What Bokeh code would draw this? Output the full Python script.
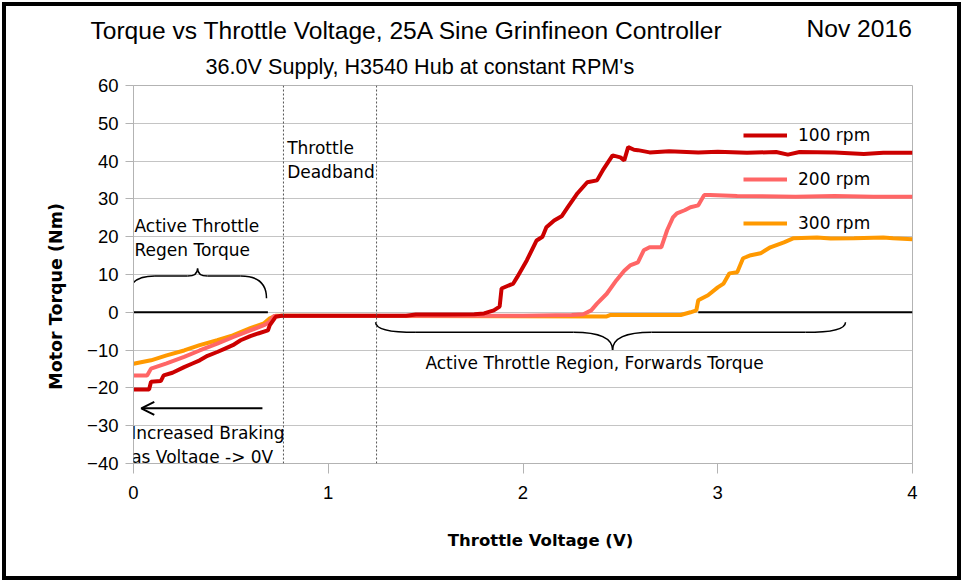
import numpy as np
from bokeh.plotting import figure
from bokeh.models import Range1d, Label, Span, Arrow, OpenHead, Legend, LegendItem
from bokeh.embed import file_html
from bokeh.resources import INLINE

# ---------------- data ----------------
volts_100 = [0.00, 0.08, 0.09, 0.14, 0.155, 0.20, 0.26, 0.30, 0.34, 0.38, 0.43, 0.47, 0.51,
             0.55, 0.60, 0.64, 0.69, 0.70, 0.73, 0.76, 1.00, 1.40, 1.45, 1.60, 1.75, 1.80,
             1.85, 1.88, 1.89, 1.95, 1.97, 2.02, 2.07, 2.10, 2.12, 2.16, 2.20, 2.23, 2.28,
             2.33, 2.38, 2.41, 2.46, 2.50, 2.52, 2.54, 2.57, 2.59, 2.65, 2.75, 2.90, 3.00,
             3.15, 3.30, 3.36, 3.42, 3.60, 3.75, 3.85, 4.00]
torque_100 = [-20.4, -20.4, -18.4, -18.2, -16.7, -16.0, -14.5, -13.6, -12.7, -11.5, -10.5, -9.6, -8.7,
              -7.4, -6.3, -5.6, -4.8, -3.4, -1.2, -0.9, -0.9, -0.9, -0.6, -0.6, -0.5, -0.3,
              0.5, 1.5, 6.3, 7.6, 9.3, 13.8, 19.0, 20.0, 22.5, 24.3, 25.5, 27.8, 31.5,
              34.4, 34.9, 37.6, 41.5, 41.0, 40.2, 43.7, 43.0, 42.9, 42.3, 42.6, 42.3, 42.5,
              42.2, 42.4, 41.7, 42.4, 42.3, 41.9, 42.2, 42.2]

volts_200 = [0.00, 0.07, 0.09, 0.17, 0.26, 0.34, 0.43, 0.51, 0.60, 0.67, 0.70, 0.72, 2.00, 2.25,
             2.31, 2.35, 2.38, 2.43, 2.48, 2.52, 2.55, 2.59, 2.62, 2.65, 2.71, 2.74, 2.77,
             2.79, 2.83, 2.86, 2.90, 2.93, 2.96, 3.10, 3.40, 3.60, 3.80, 4.00]
torque_200 = [-16.7, -16.7, -14.9, -13.5, -11.8, -10.1, -8.3, -6.6, -4.8, -3.4, -2.5, -1.0, -0.9, -0.7,
              -0.5, 0.5, 2.3, 4.9, 8.5, 11.0, 12.4, 13.2, 16.4, 17.2, 17.2, 21.7, 25.1,
              26.2, 27.0, 27.8, 28.3, 31.0, 31.0, 30.8, 30.6, 30.8, 30.6, 30.6]

volts_300 = [0.00, 0.09, 0.17, 0.26, 0.34, 0.43, 0.51, 0.60, 0.67, 0.70, 0.73, 2.43, 2.45, 2.81,
             2.86, 2.89, 2.90, 2.95, 3.00, 3.03, 3.06, 3.10, 3.13, 3.17, 3.22, 3.27, 3.34,
             3.39, 3.51, 3.58, 3.70, 3.85, 3.90, 4.00]
torque_300 = [-13.6, -12.7, -11.4, -10.1, -8.7, -7.4, -6.1, -4.2, -2.9, -1.6, -0.9, -1.1, -0.7, -0.7,
              0.0, 0.5, 3.2, 4.5, 6.6, 7.6, 10.3, 10.6, 14.3, 15.1, 15.6, 17.2, 18.5,
              19.6, 19.8, 19.5, 19.6, 19.8, 19.6, 19.3]

series_labels = ["100 rpm", "200 rpm", "300 rpm"]
x_ticks = [0, 1, 2, 3, 4]
y_ticks = [-40, -30, -20, -10, 0, 10, 20, 30, 40, 50, 60]
deadband_bounds = [0.77, 1.248]

# ---------------- figure ----------------
p = figure(width=963, height=582, output_backend="svg", toolbar_location=None,
           x_range=Range1d(0, 4), y_range=Range1d(-40, 60), title=None,
           min_border_left=133, min_border_right=51, min_border_top=85, min_border_bottom=119)
p.styles = {"position": "absolute", "left": "0px", "top": "0px",
            "outline": "4px solid black", "outline-offset": "-6px"}
p.background_fill_color = "white"
p.border_fill_alpha = 0
p.outline_line_color = "#b3b3b3"

p.xgrid.visible = False
p.ygrid.grid_line_color = "#c4c4c4"
p.ygrid.grid_line_width = 1

p.xaxis.ticker = x_ticks
p.yaxis.ticker = y_ticks
for ax in (p.xaxis, p.yaxis):
    ax.axis_line_color = "#b3b3b3"
    ax.major_tick_line_color = "#b3b3b3"
    ax.minor_tick_line_color = None
    ax.major_tick_in = 0
    ax.major_label_text_font = "Liberation Sans"
    ax.major_label_text_font_size = "18.5px"
    ax.major_label_text_color = "black"
p.yaxis.major_tick_out = 8
p.yaxis.major_label_standoff = 7
p.xaxis.major_tick_out = 10
p.xaxis.major_label_standoff = 12

# zero reference line (visible where curves are not sitting on it)
p.segment(x0=[0.0, 2.9], y0=[0, 0], x1=[0.69, 4.0], y1=[0, 0], line_color="black", line_width=2)

# dotted deadband boundaries
for loc in deadband_bounds:
    p.add_layout(Span(location=loc, dimension="height", line_color="#555555",
                      line_width=1, line_dash="2 2"))

# braces
brace_kw = dict(line_color="black", line_width=1.5)
# upper brace over regen region
p.quadratic(x0=[-0.031, 0.683], y0=[3.7, 3.7], x1=[0.11, 0.55], y1=[9.6, 9.6],
            cx=[-0.031, 0.683], cy=[9.6, 9.6], **brace_kw)
p.segment(x0=[0.11, 0.38], y0=[9.6, 9.6], x1=[0.278, 0.55], y1=[9.6, 9.6], **brace_kw)
p.quadratic(x0=[0.278, 0.38], y0=[9.6, 9.6], x1=[0.329, 0.329], y1=[11.6, 11.6],
            cx=[0.329, 0.329], cy=[9.6, 9.6], **brace_kw)
# lower brace under forward region
p.quadratic(x0=[1.243, 3.656], y0=[-2.6, -2.6], x1=[1.45, 3.45], y1=[-5.3, -5.3],
            cx=[1.243, 3.656], cy=[-5.3, -5.3], **brace_kw)
p.segment(x0=[1.45, 2.66], y0=[-5.3, -5.3], x1=[2.26, 3.45], y1=[-5.3, -5.3], **brace_kw)
p.quadratic(x0=[2.26, 2.66], y0=[-5.3, -5.3], x1=[2.46, 2.46], y1=[-10.0, -10.0],
            cx=[2.46, 2.46], cy=[-5.3, -5.3], **brace_kw)

# data curves
r300 = p.line(volts_300, torque_300, line_color="#ff9900", line_width=4)
r200 = p.line(volts_200, torque_200, line_color="#ff6666", line_width=4)
r100 = p.line(volts_100, torque_100, line_color="#cc0000", line_width=4)

legend = Legend(items=[LegendItem(label=series_labels[0], renderers=[r100]),
                       LegendItem(label=series_labels[1], renderers=[r200]),
                       LegendItem(label=series_labels[2], renderers=[r300])],
                location=(610, 230), border_line_color=None, background_fill_alpha=0,
                padding=0, margin=0, spacing=24, glyph_width=44, glyph_height=20,
                label_height=20, label_standoff=11, label_text_font="DejaVu Sans",
                label_text_font_size="17px", label_text_color="black")
p.add_layout(legend)

# arrow
p.add_layout(Arrow(end=OpenHead(size=13, line_width=2, line_color="black"),
                   x_start=0.662, y_start=-25.4, x_end=0.04, y_end=-25.4,
                   line_width=2, line_color="black"))

# texts
def label(x, y, text, font, size, baseline="alphabetic", side=None, **kw):
    lab = Label(x=x, y=y, text=text, text_font=font, text_font_size=size,
                text_baseline=baseline, text_color="black", **kw)
    if side is None:
        p.add_layout(lab)
    else:
        p.add_layout(lab, side)

label(-0.221, 74.6, "Torque vs Throttle Voltage, 25A Sine Grinfineon Controller", "Liberation Sans", "24.6px", side="above")
label(3.456, 75.0, "Nov 2016", "Liberation Sans", "24.6px", side="above")
label(0.37, 65.0, "36.0V Supply, H3540 Hub at constant RPM's", "Liberation Sans", "21.6px", side="above")

# axis titles
label(-0.40, 4.2, "Motor Torque (Nm)", "DejaVu Sans", "17.5px", "middle", side="left",
      angle=np.pi / 2, text_align="center", text_font_style="bold")
label(2.09, -60.3, "Throttle Voltage (V)", "DejaVu Sans", "16.5px", "middle", side="below",
      text_align="center", text_font_style="bold")

label(0.789, 46.2, "Throttle\nDeadband", "DejaVu Sans", "17px", "top")
label(0.005, 25.4, "Active Throttle\nRegen Torque", "DejaVu Sans", "17px", "top")
label(1.499, -10.7, "Active Throttle Region, Forwards Torque", "DejaVu Sans", "17px", "top")
label(-0.012, -29.2, "Increased Braking\nas Voltage -> 0V", "DejaVu Sans", "17px", "top")

open("out.html", "w").write(file_html(p, INLINE))
